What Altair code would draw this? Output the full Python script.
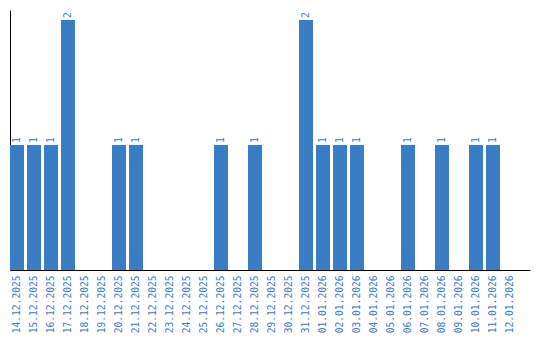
import altair as alt
import pandas as pd

dates = ["14.12.2025", "15.12.2025", "16.12.2025", "17.12.2025", "18.12.2025",
         "19.12.2025", "20.12.2025", "21.12.2025", "22.12.2025", "23.12.2025",
         "24.12.2025", "25.12.2025", "26.12.2025", "27.12.2025", "28.12.2025",
         "29.12.2025", "30.12.2025", "31.12.2025", "01.01.2026", "02.01.2026",
         "03.01.2026", "04.01.2026", "05.01.2026", "06.01.2026", "07.01.2026",
         "08.01.2026", "09.01.2026", "10.01.2026", "11.01.2026", "12.01.2026"]
counts = [1, 1, 1, 2, 0, 0, 1, 1, 0, 0, 0, 0, 1, 0, 1, 0, 0, 2, 1, 1, 1, 0, 0, 1, 0, 1, 0, 1, 1, 0]

df = pd.DataFrame({"date": dates, "count": counts})
df["label"] = df["count"].apply(lambda v: str(v) if v > 0 else "")

BLUE = "#3b7dc4"
FONT = "DejaVu Sans Mono"

x = alt.X("date:N", sort=dates,
          scale=alt.Scale(paddingInner=0.176, paddingOuter=0.382, align=0),
          axis=alt.Axis(title=None, labelAngle=-90, labelColor=BLUE, labelFont=FONT,
                        labelFontSize=9.6, ticks=False, labelPadding=5, domainColor="black",
                        domainWidth=1, grid=False, labelBaseline="middle"))
y = alt.Y("count:Q", scale=alt.Scale(domain=[0, 2.08], nice=False),
          axis=alt.Axis(title=None, labels=False, ticks=False, grid=False,
                        domainColor="black", domainWidth=1))

bars = alt.Chart(df).mark_bar(color=BLUE).encode(x=x, y=y)
text = alt.Chart(df).mark_text(angle=270, align="left", baseline="middle", dx=2,
                               color=BLUE, font=FONT, fontSize=9.6).encode(
    x=alt.X("date:N", sort=dates), y="count:Q", text="label:N")

chart = (bars + text).properties(
    width=520, height=260,
    autosize=alt.AutoSizeParams(type="none"),
    padding={"left": 10, "top": 10, "right": 10, "bottom": 70},
).configure_view(stroke=None)

chart.save("out.html", embed_options={"renderer": "svg", "actions": False})
